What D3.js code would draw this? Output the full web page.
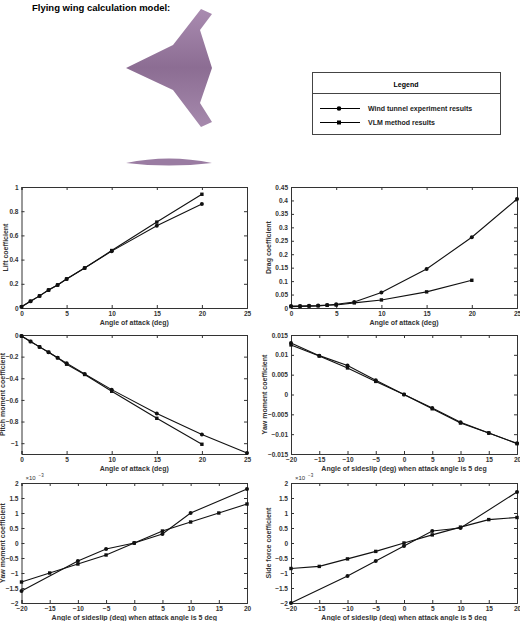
<!DOCTYPE html>
<html><head><meta charset="utf-8">
<script src="https://cdn.jsdelivr.net/npm/d3@7"></script>
<style>body{margin:0;background:#fff;font-family:"Liberation Sans",Arial,sans-serif}</style>
</head><body><div id="container"></div>
<script>
/* DATA */
const alphaExp = [0,1,2,3,4,5,7,10,15,20,25];
const alphaVlm = [0,1,2,3,4,5,7,10,15,20];
const liftExp = [0.01,0.055,0.1,0.148,0.19,0.24,0.33,0.47,0.68,0.86];
const liftVlm = [0.01,0.055,0.1,0.148,0.19,0.24,0.33,0.475,0.71,0.94];
const dragExp = [0.007,0.007,0.008,0.009,0.011,0.014,0.022,0.058,0.145,0.263,0.405];
const dragVlm = [0.005,0.006,0.007,0.008,0.01,0.011,0.019,0.03,0.06,0.103];
const pitchExp = [-0.01,-0.06,-0.11,-0.16,-0.21,-0.26,-0.36,-0.505,-0.725,-0.92,-1.09];
const pitchVlm = [-0.01,-0.06,-0.11,-0.16,-0.21,-0.27,-0.365,-0.52,-0.77,-1.01];
const betaAll = [-20,-15,-10,-5,0,5,10,15,20];
const betaExp = [-20,-10,-5,0,5,10,20];
const yawExp = [0.013,0.0098,0.0073,0.0036,0,-0.0034,-0.007,-0.0097,-0.0123];
const yawVlm = [0.0125,0.0097,0.0067,0.0033,0,-0.0036,-0.0072,-0.0097,-0.0124];
const yaw2Exp = [-1.6,-0.6,-0.2,0,0.3,1.0,1.8];
const yaw2Vlm = [-1.3,-1.0,-0.7,-0.4,0,0.4,0.7,1.0,1.3];
const sideExp = [-2.0,-1.1,-0.6,-0.1,0.4,0.5,1.7];
const sideVlm = [-0.85,-0.78,-0.53,-0.28,0,0.27,0.53,0.78,0.85];
const legendLabels = ["Wind tunnel experiment results","VLM method results"];

const width = 520, height = 621;
const svg = d3.select("#container").append("svg").attr("width", width).attr("height", height);
const zip = (xs, ys) => ys.map((y, i) => [xs[i], y]);

svg.append("text").attr("x", 32).attr("y", 11).style("font-size", "9.5px").style("font-weight", "bold")
  .text("Flying wing calculation model:");

// wing picture
const grad = svg.append("defs").append("linearGradient").attr("id", "wg").attr("x1", 0).attr("x2", 0).attr("y1", 0).attr("y2", 1);
grad.append("stop").attr("offset", 0).attr("stop-color", "#a98bb0");
grad.append("stop").attr("offset", 0.5).attr("stop-color", "#8c6d93");
grad.append("stop").attr("offset", 1).attr("stop-color", "#a68aad");
const wing = [[126,68],[173,45],[201,9],[212,14],[200,30],[212,68],[200,103],[212,122],[201,127],[173,90]];
svg.append("path").attr("d", d3.line()(wing) + "Z").attr("fill", "url(#wg)");
svg.append("path").attr("d", "M126,163 Q169,154 212,163 Q169,168 126,163Z").attr("fill", "#9a7ca2");

// legend
const lg = svg.append("g");
lg.append("rect").attr("x", 312.5).attr("y", 72.5).attr("width", 188).attr("height", 62).attr("fill", "#fff").attr("stroke", "#444");
lg.append("line").attr("x1", 312.5).attr("x2", 500.5).attr("y1", 93.5).attr("y2", 93.5).attr("stroke", "#444");
lg.append("text").attr("x", 406).attr("y", 87).attr("text-anchor", "middle").style("font-size", "7px").style("font-weight", "bold").text("Legend");
legendLabels.forEach((t, i) => {
  const y = 108.5 + i * 14;
  lg.append("line").attr("x1", 320).attr("x2", 360).attr("y1", y).attr("y2", y).attr("stroke", "#000").attr("stroke-width", 1);
  if (i === 0) lg.append("circle").attr("cx", 339).attr("cy", y).attr("r", 2.3);
  else lg.append("rect").attr("x", 337).attr("y", y - 2).attr("width", 4).attr("height", 4);
  lg.append("text").attr("x", 368).attr("y", y + 2.5).style("font-size", "7px").style("font-weight", "bold").style("fill", "#222").text(t);
});

function panel(o) {
  const x = d3.scaleLinear().domain(o.xd).range([o.x0, o.x1]);
  const y = d3.scaleLinear().domain(o.yd).range([o.y1, o.y0]);
  const g = svg.append("g");
  const fmt = o.fmt || (d => d);
  g.append("g").attr("transform", `translate(0,${o.y1})`)
    .call(d3.axisBottom(x).tickValues(o.xt).tickSize(-3).tickPadding(3).tickFormat(d => d < 0 ? "\u2212" + (-d) : d));
  g.append("g").attr("transform", `translate(${o.x0},0)`)
    .call(d3.axisLeft(y).tickValues(o.yt).tickSize(-3).tickPadding(3).tickFormat(d => String(fmt(d)).replace("-", "\u2212")));
  g.append("g").attr("transform", `translate(0,${o.y0})`).call(d3.axisTop(x).tickValues(o.xt).tickSize(-3).tickFormat(""));
  g.append("g").attr("transform", `translate(${o.x1},0)`).call(d3.axisRight(y).tickValues(o.yt).tickSize(-3).tickFormat(""));
  g.selectAll(".domain").attr("stroke", "#333");
  g.selectAll(".tick line").attr("stroke", "#333");
  g.selectAll("text").style("font-size", "6.5px").style("font-weight", "bold").style("fill", "#333").style("font-family", "Liberation Sans, Arial");
  g.append("text").attr("x", (o.x0 + o.x1) / 2).attr("y", o.y1 + 17).attr("text-anchor", "middle")
    .style("font-size", "7px").style("font-weight", "bold").style("fill", "#333").text(o.xl);
  g.append("text").attr("transform", `translate(${o.x0 - o.yOff},${(o.y0 + o.y1) / 2}) rotate(-90)`).attr("text-anchor", "middle")
    .style("font-size", "7px").style("font-weight", "bold").style("fill", "#333").text(o.yl);
  if (o.exp) {
    g.append("text").attr("x", o.x0 + 4).attr("y", o.y0 - 3).style("font-size", "6px").style("fill", "#333").text("\u00d710");
    g.append("text").attr("x", o.x0 + 17).attr("y", o.y0 - 6).style("font-size", "4.5px").style("fill", "#333").text("\u22123");
  }
  const line = d3.line().x(d => x(d[0])).y(d => y(d[1]));
  [["c", o.a], ["s", o.b]].forEach(([m, pts]) => {
    g.append("path").attr("d", line(pts)).attr("fill", "none").attr("stroke", "#111").attr("stroke-width", 1.1);
    if (m === "c") g.selectAll(null).data(pts).join("circle").attr("cx", d => x(d[0])).attr("cy", d => y(d[1])).attr("r", 2).attr("fill", "#111");
    else g.selectAll(null).data(pts).join("rect").attr("x", d => x(d[0]) - 1.7).attr("y", d => y(d[1]) - 1.7).attr("width", 3.4).attr("height", 3.4).attr("fill", "#111");
  });
}

const aT = [0,5,10,15,20,25], bT = [-20,-15,-10,-5,0,5,10,15,20];
const L = [21.5, 247], R = [291, 517];
const r1 = [187, 308], r2 = [335, 454], r3 = [483, 603];
const sideTicks = [-2,-1.5,-1,-0.5,0,0.5,1,1.5,2];

panel({x0: L[0], x1: L[1], y0: r1[0], y1: r1[1], yOff: 14, xd: [0,25], yd: [0,1], xt: aT, yt: [0,0.2,0.4,0.6,0.8,1],
  xl: "Angle of attack (deg)", yl: "Lift coefficient", a: zip(alphaExp, liftExp), b: zip(alphaVlm, liftVlm)});
panel({x0: R[0], x1: R[1], y0: r1[0], y1: r1[1], yOff: 20, xd: [0,25], yd: [0,0.45], xt: aT, yt: d3.range(0, 0.451, 0.05),
  fmt: d => +d.toFixed(2), xl: "Angle of attack (deg)", yl: "Drag coefficient", a: zip(alphaExp, dragExp), b: zip(alphaVlm, dragVlm)});
panel({x0: L[0], x1: L[1], y0: r2[0], y1: r2[1], yOff: 17, xd: [0,25], yd: [-1.1,0], xt: aT, yt: [-1,-0.8,-0.6,-0.4,-0.2,0],
  xl: "Angle of attack (deg)", yl: "Pitch moment coefficient", a: zip(alphaExp, pitchExp), b: zip(alphaVlm, pitchVlm)});
panel({x0: R[0], x1: R[1], y0: r2[0], y1: r2[1], yOff: 24, xd: [-20,20], yd: [-0.015,0.015], xt: bT, yt: [-0.015,-0.01,-0.005,0,0.005,0.01,0.015],
  fmt: d => +d.toFixed(3), xl: "Angle of sideslip (deg) when attack angle is 5 deg", yl: "Yaw moment coefficient",
  a: zip(betaAll, yawExp), b: zip(betaAll, yawVlm)});
panel({x0: L[0], x1: L[1], y0: r3[0], y1: r3[1], yOff: 17, xd: [-20,20], yd: [-2,2], xt: bT, yt: sideTicks, exp: true,
  xl: "Angle of sideslip (deg) when attack angle is 5 deg", yl: "Yaw moment coefficient", a: zip(betaExp, yaw2Exp), b: zip(betaAll, yaw2Vlm)});
panel({x0: R[0], x1: R[1], y0: r3[0], y1: r3[1], yOff: 20, xd: [-20,20], yd: [-2,2], xt: bT, yt: sideTicks, exp: true,
  xl: "Angle of sideslip (deg) when attack angle is 5 deg", yl: "Side force coefficient", a: zip(betaExp, sideExp), b: zip(betaAll, sideVlm)});
</script></body></html>
